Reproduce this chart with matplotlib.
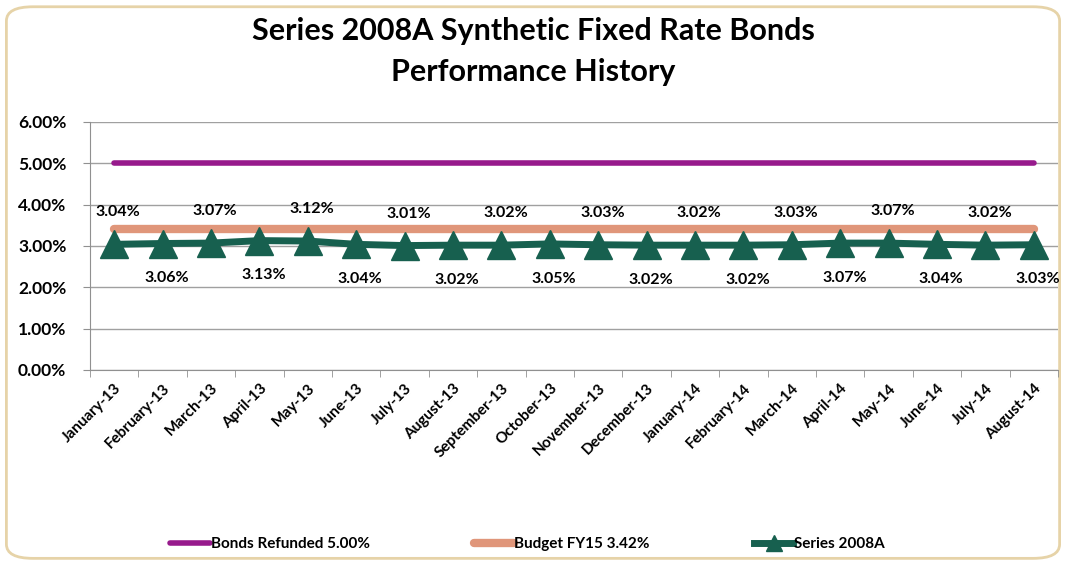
import matplotlib

matplotlib.use("Agg")
import matplotlib.pyplot as plt
from matplotlib.patches import FancyBboxPatch
from matplotlib.ticker import FuncFormatter, MultipleLocator

months = ["January-13", "February-13", "March-13", "April-13", "May-13", "June-13",
          "July-13", "August-13", "September-13", "October-13", "November-13",
          "December-13", "January-14", "February-14", "March-14", "April-14",
          "May-14", "June-14", "July-14", "August-14"]
series_2008a = [3.04, 3.06, 3.07, 3.13, 3.12, 3.04, 3.01, 3.02, 3.02, 3.05,
                3.03, 3.02, 3.02, 3.02, 3.03, 3.07, 3.07, 3.04, 3.02, 3.03]
bonds_refunded = [5.00] * len(months)
budget_fy15 = [3.42] * len(months)

PURPLE = "#971a8c"
SALMON = "#e0967a"
GREEN = "#17604f"

plt.rcParams["font.family"] = ["Lato", "DejaVu Sans"]

fig = plt.figure(figsize=(10.66, 5.64), dpi=100)
fig.patches.append(FancyBboxPatch((0.006, 0.01), 0.988, 0.978, boxstyle="round,pad=0,rounding_size=0.025",
                                  transform=fig.transFigure, facecolor="white",
                                  edgecolor="#e6d3a8", lw=2, zorder=-1))
ax = fig.add_axes([0.0844, 0.344, 0.9081, 0.4397])
ax.set_facecolor("none")

x = list(range(len(months)))
ax.plot(x, bonds_refunded, color=PURPLE, lw=4, solid_capstyle="round", label="Bonds Refunded 5.00%")
ax.plot(x, budget_fy15, color=SALMON, lw=6, solid_capstyle="round", label="Budget FY15 3.42%")
ax.plot(x, series_2008a, color=GREEN, lw=5, marker="^", ms=20, label="Series 2008A")

# labels alternate above / below the points, as in the source chart
for i, v in enumerate(series_2008a):
    dy = 23 if i % 2 == 0 else -25
    ax.annotate(f"{v:.2f}%", (i, v), xytext=(3, dy), textcoords="offset points",
                ha="center", va="center", fontsize=11.5, fontweight="bold")

ax.set_ylim(0, 6)
ax.set_xlim(-0.5, len(months) - 0.5)
ax.yaxis.set_major_locator(MultipleLocator(1))
ax.yaxis.set_major_formatter(FuncFormatter(lambda v, _: f"{v:.2f}%"))
ax.grid(axis="y", color="#a0a0a0", lw=1)
ax.set_axisbelow(True)
ax.set_xticks(x, months, rotation=45, ha="right", rotation_mode="anchor")
ax.set_xticks([i - 0.5 for i in range(len(months) + 1)], minor=True)
ax.tick_params(axis="x", which="major", length=0, pad=8)
ax.tick_params(axis="x", which="minor", length=5, color="#909090")
ax.tick_params(axis="y", length=5, color="#909090", pad=12)
for lab in ax.get_xticklabels():
    lab.set_fontweight("bold")
    lab.set_fontsize(11)
for lab in ax.get_yticklabels():
    lab.set_fontweight("bold")
    lab.set_fontsize(12.5)
for side in ("top", "right"):
    ax.spines[side].set_visible(False)
for side in ("left", "bottom"):
    ax.spines[side].set_color("#909090")

fig.text(0.5, 0.945, "Series 2008A Synthetic Fixed Rate Bonds", ha="center", va="center",
         fontsize=22, fontweight="bold")
fig.text(0.5, 0.873, "Performance History", ha="center", va="center",
         fontsize=22, fontweight="bold")

fig.legend(loc="center", bbox_to_anchor=(0.495, 0.035), ncol=3, frameon=False,
           prop={"weight": "bold", "size": 11}, handlelength=2.6,
           handletextpad=0.05, columnspacing=6.8, markerscale=0.55)

fig.savefig("out.png", dpi=100)
